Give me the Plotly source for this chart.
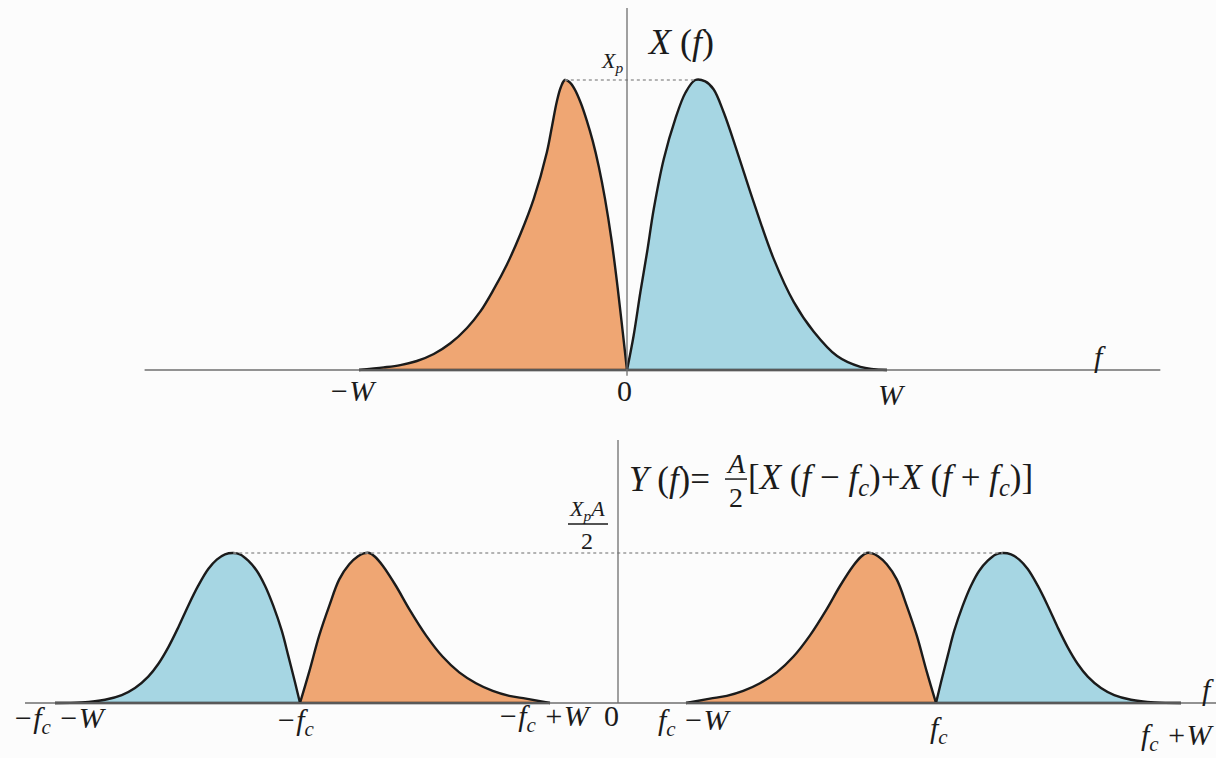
import plotly.graph_objects as go

# ---- data -------------------------------------------------------------
# Frequencies in units of W; magnitudes normalised to the peak value.
W = 1.0
FC = 1.272          # carrier frequency f_c in units of W
XP = 1.0            # peak of |X(f)|
A = 1.0             # carrier amplitude

# X(f), negative-frequency lobe (orange)
x_neg_f = [-1.0, -0.908, -0.846, -0.784, -0.721, -0.659, -0.597, -0.547, -0.498,
           -0.448, -0.398, -0.348, -0.299, -0.280, -0.262, -0.247, -0.232, -0.215,
           -0.195, -0.172, -0.150, -0.128, -0.105, -0.082, -0.058, -0.035, -0.017, 0.0]
x_neg_v = [0.0, 0.009, 0.017, 0.031, 0.055, 0.092, 0.145, 0.202, 0.277,
           0.364, 0.468, 0.590, 0.751, 0.840, 0.925, 0.975, 1.0, 0.993,
           0.968, 0.920, 0.860, 0.790, 0.700, 0.590, 0.450, 0.285, 0.140, 0.0]
# X(f), positive-frequency lobe (blue)
x_pos_f = [0.0, 0.025, 0.050, 0.075, 0.100, 0.137, 0.180, 0.218, 0.255, 0.292,
           0.323, 0.361, 0.410, 0.473, 0.547, 0.622, 0.697, 0.784, 0.871, 0.97]
x_pos_v = [0.0, 0.120, 0.269, 0.407, 0.556, 0.727, 0.865, 0.956, 1.0, 0.995,
           0.968, 0.888, 0.756, 0.578, 0.384, 0.235, 0.132, 0.048, 0.011, 0.0]

# Y(f) sidebands, offset from the carrier in units of W, normalised to Xp*A/2
lsb_df = [-1.0, -0.904, -0.837, -0.771, -0.704, -0.637, -0.571, -0.504, -0.437,
          -0.384, -0.331, -0.300, -0.277, -0.255, -0.232, -0.197, -0.157, -0.117,
          -0.077, -0.037, 0.0]
lsb_v = [0.0, 0.029, 0.048, 0.081, 0.132, 0.204, 0.308, 0.451, 0.626,
         0.780, 0.915, 0.975, 1.0, 0.997, 0.978, 0.925, 0.824, 0.648,
         0.451, 0.209, 0.0]
usb_df = [0.0, 0.020, 0.047, 0.073, 0.107, 0.140, 0.173, 0.207, 0.240, 0.267,
          0.300, 0.333, 0.367, 0.407, 0.447, 0.487, 0.527, 0.567, 0.607, 0.660,
          0.713, 0.780, 0.873, 0.98]
usb_v = [0.0, 0.138, 0.316, 0.482, 0.649, 0.782, 0.882, 0.949, 0.991, 1.0,
         0.991, 0.956, 0.893, 0.782, 0.649, 0.504, 0.371, 0.260, 0.176, 0.100,
         0.053, 0.022, 0.004, 0.0]

ORANGE = "#EFA673"
BLUE = "#A6D6E3"
INK = "#1b1b1b"
AXIS = "#6f6f6f"
FONT = "'Liberation Serif', 'Times New Roman', 'DejaVu Serif', serif"

fig = go.Figure()


def lobe(xs, ys, color, xa, ya):
    fig.add_trace(go.Scatter(
        x=xs, y=ys, mode="lines", fill="tozeroy", fillcolor=color,
        line=dict(color=INK, width=2.4, shape="spline", smoothing=1.0),
        xaxis=xa, yaxis=ya, hoverinfo="skip", showlegend=False))
    # dark base edge under the lobe
    fig.add_trace(go.Scatter(
        x=[min(xs), max(xs)], y=[0, 0], mode="lines",
        line=dict(color=INK, width=2.4), xaxis=xa, yaxis=ya,
        hoverinfo="skip", showlegend=False))


# ---- top panel: X(f) --------------------------------------------------
lobe(x_neg_f, [v * XP for v in x_neg_v], ORANGE, "x", "y")
lobe(x_pos_f, [v * XP for v in x_pos_v], BLUE, "x", "y")

# ---- bottom panel: Y(f) = A/2 [X(f-fc) + X(f+fc)] ----------------------
yp = XP * A / 2
sc = 1 / yp  # Y drawn in units of Xp*A/2
lobe([FC + d for d in lsb_df], [v * yp * sc for v in lsb_v], ORANGE, "x2", "y2")
lobe([FC + d for d in usb_df], [v * yp * sc for v in usb_v], BLUE, "x2", "y2")
lobe([-FC - d for d in lsb_df], [v * yp * sc for v in lsb_v], ORANGE, "x2", "y2")
lobe([-FC - d for d in usb_df], [v * yp * sc for v in usb_v], BLUE, "x2", "y2")

# dotted peak-level lines
pk_neg = x_neg_f[x_neg_v.index(max(x_neg_v))]
pk_pos = x_pos_f[x_pos_v.index(max(x_pos_v))]
pk_usb = usb_df[usb_v.index(max(usb_v))]
fig.add_trace(go.Scatter(x=[pk_neg, pk_pos], y=[XP, XP], mode="lines",
                         line=dict(color="#9a9a9a", width=1.6, dash="dot"),
                         xaxis="x", yaxis="y", hoverinfo="skip", showlegend=False))
fig.add_trace(go.Scatter(x=[-FC - pk_usb, FC + pk_usb], y=[1, 1], mode="lines",
                         line=dict(color="#9a9a9a", width=1.6, dash="dot"),
                         xaxis="x2", yaxis="y2", hoverinfo="skip", showlegend=False))

# ---- axis lines and fraction bars --------------------------------------
shapes = [
    dict(type="line", xref="x", yref="y", x0=-1.80, x1=1.99, y0=0, y1=0,
         line=dict(color=AXIS, width=1.3)),
    dict(type="line", xref="x", yref="y", x0=0, x1=0, y0=-0.02, y1=1.248,
         line=dict(color=AXIS, width=1.3)),
    dict(type="line", xref="x2", yref="y2", x0=-2.372, x1=2.40, y0=0, y1=0,
         line=dict(color=AXIS, width=1.3)),
    dict(type="line", xref="x2", yref="y2", x0=0, x1=0, y0=0, y1=1.753,
         line=dict(color=AXIS, width=1.3)),
    dict(type="line", xref="x2", yref="y2", x0=-0.20, x1=-0.04, y0=1.193, y1=1.193,
         line=dict(color=INK, width=1.5)),
    dict(type="line", xref="x2", yref="y2", x0=0.428, x1=0.516, y0=1.493, y1=1.493,
         line=dict(color=INK, width=1.5)),
]

ann = []


def txt(x, y, s, xa, ya, size=30, xanchor="center", yanchor="middle", xshift=0):
    ann.append(dict(x=x, y=y, xref=xa, yref=ya, text=s, showarrow=False,
                    xanchor=xanchor, yanchor=yanchor, xshift=xshift,
                    font=dict(family=FONT, size=size, color=INK)))


# top labels
txt(-W, -0.069, "<i>−W</i>", "x", "y", xshift=-6)
txt(0, -0.069, "0", "x", "y", xshift=-3)
txt(W, -0.086, "<i>W</i>", "x", "y", xshift=-3)
txt(1.765, 0.045, "<i>f</i>", "x", "y")
txt(0.198, 1.131, "<i>X</i> (<i>f</i>)", "x", "y", size=36)
txt(-0.056, 1.062, "<i>X<sub>p</sub></i>", "x", "y", size=22)

# bottom labels
txt(-FC - W, -0.113, "<i>−f<sub>c</sub></i> <i>−W</i>", "x2", "y2", xshift=10)
txt(-FC, -0.127, "<i>−f<sub>c</sub></i>", "x2", "y2", xshift=-5)
txt(-FC + W, -0.10, "<i>−f<sub>c</sub></i> <i>+W</i>", "x2", "y2", xshift=-5)
txt(-0.016, -0.08, "0", "x2", "y2", xshift=-3)
txt(FC - W, -0.127, "<i>f<sub>c</sub></i> <i>−W</i>", "x2", "y2", xshift=8)
txt(FC, -0.18, "<i>f<sub>c</sub></i>", "x2", "y2", xshift=3)
txt(2.392, -0.227, "<i>f<sub>c</sub></i> <i>+W</i>", "x2", "y2", xanchor="right")
txt(2.392, 0.087, "<i>f</i>", "x2", "y2", xanchor="right")
txt(-0.124, 1.287, "<i>X<sub>p</sub>A</i>", "x2", "y2", size=22)
txt(-0.124, 1.08, "2", "x2", "y2", size=24)
txt(0.036, 1.487, "<i>Y</i> (<i>f</i>)=", "x2", "y2", size=35, xanchor="left")
txt(0.472, 1.60, "<i>A</i>", "x2", "y2", size=28)
txt(0.472, 1.37, "2", "x2", "y2", size=28)
txt(0.512, 1.487,
    "[<i>X</i> (<i>f</i> − <i>f<sub>c</sub></i>)+<i>X</i> (<i>f</i> + <i>f<sub>c</sub></i>)]",
    "x2", "y2", size=35, xanchor="left")

hidden = dict(visible=False, showgrid=False, zeroline=False, fixedrange=True)
fig.update_layout(
    width=1216, height=758,
    margin=dict(l=0, r=0, t=0, b=0),
    paper_bgcolor="#fcfcfc", plot_bgcolor="rgba(0,0,0,0)",
    showlegend=False,
    xaxis=dict(domain=[0, 1], range=[-627 / 268, (1216 - 627) / 268], anchor="y", **hidden),
    yaxis=dict(domain=[0, 1], range=[(370 - 758) / 290, 370 / 290], anchor="x", **hidden),
    xaxis2=dict(domain=[0, 1], range=[-618 / 250, (1216 - 618) / 250], anchor="y2", **hidden),
    yaxis2=dict(domain=[0, 1], range=[(703 - 758) / 150, 703 / 150], anchor="x2", **hidden),
    shapes=shapes,
    annotations=ann,
)

fig.write_html("out.html")
